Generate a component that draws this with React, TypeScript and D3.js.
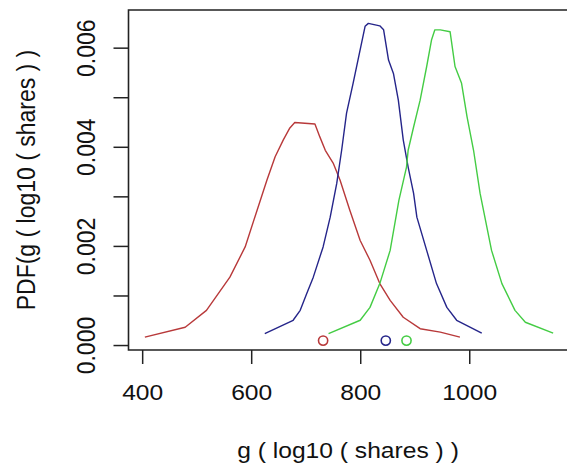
import React from "react";
import * as d3 from "d3";

const redX = [404, 478, 517, 560, 588, 609, 628, 643, 658, 670, 679, 716, 725, 735, 750, 762, 780, 799, 817, 835, 854, 878, 909, 946, 982];
const redY = [0.00017, 0.00037, 0.00071, 0.00138, 0.00199, 0.0027, 0.00334, 0.00381, 0.00415, 0.00439, 0.0045, 0.00447, 0.00421, 0.00394, 0.00367, 0.00334, 0.00273, 0.00212, 0.00172, 0.00125, 0.00091, 0.00057, 0.00034, 0.00027, 0.00017];

const blueX = [624, 676, 689, 701, 713, 731, 744, 756, 765, 774, 786, 799, 808, 814, 835, 842, 851, 860, 869, 878, 887, 897, 903, 921, 939, 958, 976, 1022];
const blueY = [0.00024, 0.00051, 0.00071, 0.00105, 0.00138, 0.00199, 0.00259, 0.00327, 0.00394, 0.00469, 0.00529, 0.00597, 0.00644, 0.0065, 0.00645, 0.00637, 0.00576, 0.00549, 0.00495, 0.00415, 0.0036, 0.00307, 0.00259, 0.00192, 0.00125, 0.00077, 0.00051, 0.00025];

const greenX = [741, 799, 817, 835, 854, 870, 884, 887, 897, 909, 921, 930, 936, 946, 964, 973, 985, 995, 1007, 1019, 1040, 1059, 1083, 1102, 1153];
const greenY = [0.00024, 0.00051, 0.00077, 0.00125, 0.00192, 0.00293, 0.0036, 0.00394, 0.00441, 0.00495, 0.00563, 0.00617, 0.00637, 0.00637, 0.00633, 0.00563, 0.00529, 0.00462, 0.00394, 0.00307, 0.00192, 0.00125, 0.00071, 0.00047, 0.00025];

const centerX = [731, 846, 884];
const centerY = [0.0001, 0.0001, 0.0001];

const seriesColors = ["#b8393a", "#25258a", "#44cc44"];
const xTicks = [400, 600, 800, 1000];
const yTicks = [0, 0.001, 0.002, 0.003, 0.004, 0.005, 0.006];
const yTickLabels = ["0.000", "0.002", "0.004", "0.006"];
const xTitle = "g ( log10 ( shares ) )";
const yTitle = "PDF(g ( log10 ( shares ) )";

const W = 567;
const H = 470;
const L = 128.5, R = 569.5, T = 10, B = 350;

export default function App() {
  const x = d3.scaleLinear().domain([374, 1183]).range([L, R]);
  const y = d3.scaleLinear().domain([-0.00009, 0.00677]).range([B, T]);
  const line = d3
    .line<[number, number]>()
    .x((d) => x(d[0]))
    .y((d) => y(d[1]));
  const series: [number[], number[]][] = [
    [redX, redY],
    [blueX, blueY],
    [greenX, greenY],
  ];
  const font = "'Liberation Sans', Arial, Helvetica, sans-serif";
  const fsH = 22;
  const sxH = 1.12;
  const fsV = 23;
  const sxV = 1.15;
  return (
    <div style={{ position: "fixed", left: 0, top: 0 }}>
      <svg width={W} height={H} style={{ display: "block", background: "#fff" }}>
        <rect x={0} y={0} width={W} height={H} fill="#fff" />
        {series.map(([xs, ys], i) => (
          <path
            key={i}
            d={line(xs.map((v, j) => [v, ys[j]] as [number, number])) || ""}
            fill="none"
            stroke={seriesColors[i]}
            strokeWidth={1.4}
            strokeLinejoin="round"
          />
        ))}
        {centerX.map((cx, i) => (
          <circle
            key={i}
            cx={x(cx)}
            cy={y(centerY[i])}
            r={4.6}
            fill="none"
            stroke={seriesColors[i]}
            strokeWidth={1.6}
          />
        ))}
        <path
          d={`M${R},${T}H${L}V${B}H${R}`}
          fill="none"
          stroke="#222"
          strokeWidth={1.6}
        />
        {xTicks.map((t) => (
          <g key={t}>
            <line x1={x(t)} x2={x(t)} y1={B} y2={B + 14} stroke="#222" strokeWidth={1.5} />
            <text
              transform={`translate(${x(t)},400) scale(${sxH},1)`}
              textAnchor="middle"
              fontFamily={font}
              fontSize={fsH}
              fill="#111"
            >
              {t}
            </text>
          </g>
        ))}
        {yTicks.map((t) => (
          <line key={t} x1={L - 15} x2={L} y1={y(t)} y2={y(t)} stroke="#222" strokeWidth={1.5} />
        ))}
        {yTickLabels.map((lab) => (
          <text
            key={lab}
            transform={`translate(95,${y(+lab)}) scale(${sxV},1) rotate(-90)`}
            textAnchor="middle"
            fontFamily={font}
            fontSize={fsV}
            fill="#111"
          >
            {lab}
          </text>
        ))}
        <text
          transform={`translate(348,458) scale(${sxH},1)`}
          textAnchor="middle"
          fontFamily={font}
          fontSize={fsH}
          fill="#111"
        >
          {xTitle}
        </text>
        <text
          transform={`translate(35,${(T + B) / 2}) scale(${sxV},1) rotate(-90)`}
          textAnchor="middle"
          fontFamily={font}
          fontSize={fsV}
          fill="#111"
        >
          {yTitle}
        </text>
      </svg>
    </div>
  );
}
